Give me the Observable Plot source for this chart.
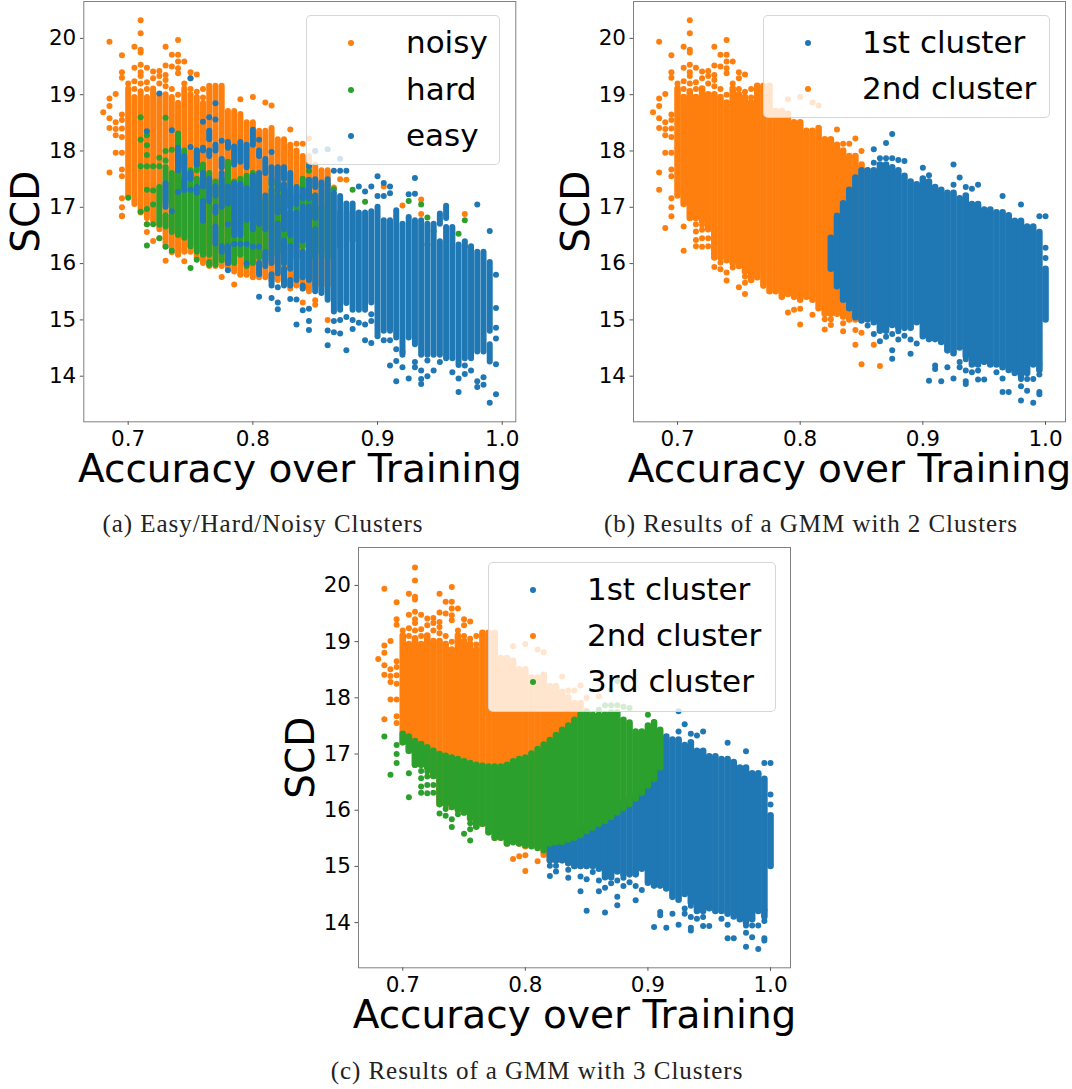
<!DOCTYPE html>
<html>
<head>
<meta charset="utf-8">
<script src="https://cdn.jsdelivr.net/npm/d3@7"></script>
<script src="https://cdn.jsdelivr.net/npm/@observablehq/plot@0.6"></script>
<style>
html,body{margin:0;padding:0;background:#fff}
#page{position:relative;width:1072px;height:1089px;overflow:hidden;font-family:"DejaVu Sans",sans-serif;color:#000}
#page svg{position:absolute;overflow:visible}
.legend{position:absolute;box-sizing:border-box;background:rgba(255,255,255,.8);border:1px solid rgba(204,204,204,.8);border-radius:5px}
.legend .row{position:absolute;left:0;right:0;height:0}
.legend .sw{position:absolute;width:6px;height:6px;border-radius:50%;top:-3px}
.legend .lb{position:absolute;top:-19px;line-height:36px;font-size:31px;white-space:nowrap}
.cap{position:absolute;transform:translateX(-50%);font-family:"Liberation Serif",serif;font-size:25px;letter-spacing:.95px;line-height:26px;white-space:nowrap;color:#222}
</style>
</head>
<body>
<div id="page"></div>
<script>
const blue = "#1f77b4", orange = "#ff7f0e", green = "#2ca02c";
const xTicks = [0.7, 0.8, 0.9, 1.0];
const yTicks = [14, 15, 16, 17, 18, 19, 20];
const xTitle = "Accuracy over Training";
const yTitle = "SCD";

// Vertical stripes of the whole point cloud: one per accuracy level
const columnX = [.70,.705,.71,.715,.72,.725,.73,.735,.74,.745,.75,.755,.76,.765,.77,.775,.78,.785,.79,.795,.80,.805,.81,.815,.82,.825,.83,.835,.84,.845,.85,.855,.86,.865,.87,.875,.88,.885,.89,.895,.90,.905,.91,.915,.92,.925,.93,.935,.94,.945,.95,.955,.96,.965,.97,.975,.98,.985,.99,.995,1.0];
const cloudHigh = [19.1,18.95,19.05,18.95,19.1,19.0,19.0,18.95,18.85,19.1,19.0,18.95,18.85,19.15,19.15,19.15,18.7,18.7,18.65,18.5,18.5,18.35,18.35,18.4,18.2,18.2,18.1,18.0,17.9,17.9,17.75,17.65,17.65,17.75,17.75,17.7,17.65,17.55,17.45,17.4,17.5,17.45,17.35,17.3,17.25,17.25,17.15,17.2,17.05,17.05,16.95,16.95,16.9,16.9,16.85,16.75,16.75,16.65,16.65,16.55,15.9];
const cloudLow = [17.2,17.05,16.8,16.8,16.75,16.6,16.1,16.1,16.05,16.0,15.95,15.85,15.7,15.75,15.6,15.5,15.5,15.4,15.45,15.4,15.35,15.4,15.35,15.2,15.1,15.1,15.1,15.05,15.0,15.0,15.0,15.0,14.95,14.8,14.8,14.9,14.85,14.85,14.85,14.95,14.7,14.65,14.65,14.6,14.45,14.4,14.5,14.35,14.2,14.2,14.25,14.2,14.2,14.15,14.1,14.05,14.0,14.05,14.2,14.1,15.0];
const cloudRows = columnX.map((x, i) => [x, cloudLow[i], cloudHigh[i]]);

// Separate points around the cloud
const upperLeft = [[.68,18.69],[.685,19.94],[.685,18.93],[.685,18.8],[.685,18.58],[.685,18.41],[.685,17.62],[.69,19.01],[.69,18.51],[.69,18.39],[.69,18.28],[.69,17.97],[.695,19.7],[.695,19.4],[.695,19.3],[.695,18.65],[.695,18.55],[.695,18.4],[.695,18.25],[.695,17.97],[.695,17.67],[.695,17.55],[.70,19.2],[.705,19.85],[.705,19.48],[.705,19.24],[.705,19.1],[.71,20.32],[.71,20.09],[.71,19.8],[.71,19.75],[.71,19.53],[.71,19.4],[.71,19.33],[.71,19.2],[.715,19.48],[.715,19.22],[.715,19.1],[.72,19.41],[.72,19.29],[.725,19.42],[.725,19.33],[.725,19.2],[.73,19.85],[.73,19.52],[.73,19.35],[.73,19.26],[.73,19.15],[.735,19.71],[.735,19.5],[.735,19.1],[.74,19.97],[.74,19.71],[.74,19.59],[.74,19.47],[.74,19.38],[.74,19.0],[.745,19.59],[.745,19.2],[.75,19.4],[.75,19.29],[.75,19.1],[.755,19.36],[.755,19.05],[.76,18.95],[.76,19.1],[.79,18.92],[.80,18.96],[.81,18.86],[.815,18.81],[.83,18.38],[.835,18.13],[.84,18.13],[.845,18.22],[.85,18.0]];
const lowerLeftEdge = [[.685,17.31],[.69,16.63],[.695,17.16],[.695,17.0],[.695,16.84],[.705,16.66],[.705,16.23]];
const lowerLeft = [[.715,16.7],[.715,16.57],[.715,16.42],[.715,16.31],[.72,16.69],[.72,16.6],[.72,16.45],[.72,16.3],[.725,16.45],[.725,16.31],[.73,15.94],[.735,16.02],[.735,15.9],[.74,15.84],[.74,15.7],[.745,15.93],[.75,15.58],[.755,15.77],[.755,15.66],[.755,15.46]];
const lowerBridge = [[.79,15.13],[.795,15.18],[.80,15.2],[.80,14.92],[.81,15.09]];
const lowerMiddle = [[.82,15.01],[.82,14.83],[.825,15.01],[.825,14.91],[.835,14.94],[.835,14.8],[.845,14.82],[.845,14.56],[.85,14.77],[.85,14.21],[.86,14.56],[.865,14.18]];
const borderPoint = [[.86,18.03]];
const upperRightGreen = [[.87,18.14],[.875,18.3],[.86,17.79],[.865,17.87],[.87,17.87],[.875,17.87],[.88,17.84],[.885,17.82],[.90,17.7],[.905,17.57]];
const upperRightBlue = [[.925,17.76],[.925,17.4],[.93,17.53],[.935,17.36],[.94,17.33],[.945,17.4],[.965,17.2],[.98,17.05],[.995,16.84],[1.0,16.84],[1.0,16.28],[1.0,16.1]];
const lowerRight = [[.855,14.9],[.86,14.75],[.865,14.62],[.87,14.7],[.875,14.75],[.88,14.8],[.885,14.72],[.875,14.46],[.875,14.31],[.88,14.65],[.89,14.65],[.89,14.4],[.895,14.58],[.905,13.92],[.915,13.91],[.925,13.96],[.935,13.91],[.935,13.86],[.945,13.94],[.95,13.94],[.965,13.96],[.965,13.72],[.97,13.72],[.98,13.57],[.99,13.53],[.995,13.72],[.995,13.68],[.91,14.19],[.91,14.13],[.92,14.16],[.93,14.25],[.93,14.16],[.935,14.3],[.935,14.1],[.94,14.28],[.94,14.07],[.945,14.1],[.95,14.25],[.96,14.07],[.965,14.19],[.975,14.07],[.98,13.95],[.98,13.82],[.985,13.74],[.985,13.95],[.99,13.95],[.995,14.03],[.995,14.22]];

// (b) the part of each stripe near the border that belongs to the 1st cluster
const bBlueStart = [[.825,15.9,16.45],[.83,15.59,16.84],[.835,15.35,17.06],[.84,15.2,17.3],[.845,15.04,17.52],[.85,14.98,17.65]];

// (c) 3rd-cluster stripes
const greenX = columnX.slice(0, 43);
const greenHigh = [17.35,17.3,17.22,17.17,17.11,17.05,16.99,16.96,16.93,16.9,16.86,16.83,16.8,16.78,16.77,16.77,16.77,16.8,16.86,16.9,16.93,17.0,17.08,17.16,17.24,17.33,17.42,17.5,17.6,17.7,17.73,17.69,17.69,17.7,17.73,17.73,17.6,17.55,17.39,17.39,17.5,17.55,17.42];
const greenLow = [17.2,17.05,16.8,16.8,16.75,16.6,16.1,16.1,16.05,16.0,15.95,15.85,15.7,15.75,15.6,15.5,15.5,15.4,15.42,15.4,15.37,15.35,15.32,15.28,15.4,15.42,15.43,15.47,15.5,15.55,15.62,15.68,15.75,15.8,15.87,15.95,16.03,16.1,16.2,16.3,16.43,16.55,16.75];

// (a) noisy samples
const noisyX = columnX.slice(0, 33);
const noisyLow = [17.2,17.05,16.9,16.8,16.75,16.6,16.3,16.25,16.15,16.2,16.2,16.1,16.0,15.95,15.95,15.95,15.9,15.85,15.8,15.8,15.75,15.75,15.75,15.7,15.7,15.65,15.55,15.6,15.55,15.5,15.6,15.6,15.6];
const noisyExtra = [[.695,16.85],[.715,16.7],[.715,16.56],[.72,16.4],[.725,16.45],[.73,16.05],[.735,16.2],[.745,16.04],[.775,15.76],[.785,15.63],[.79,15.8],[.795,15.8],[.84,15.31],[.85,15.35],[.85,15.27],[.865,17.35],[.87,17.5],[.875,17.49],[.905,17.37],[.92,17.03],[.935,17.14],[.935,16.88],[.97,16.88],[.86,15.0]];

// (a) hard samples
const hardRows = [[.725,16.9,17.35],[.725,16.68,16.85],[.73,17.1,17.7],[.73,16.65,16.85],[.735,16.55,17.6],[.74,16.5,17.65],[.74,17.8,18.3],[.745,16.45,17.5],[.745,17.7,18.0],[.75,16.3,17.65],[.755,16.2,17.5],[.755,17.65,18.0],[.76,16.15,17.75],[.765,16.15,17.6],[.765,15.97,16.02],[.77,15.97,17.45],[.775,16.05,17.5],[.78,16.0,17.8],[.785,16.0,17.45],[.79,16.15,17.5],[.795,15.95,17.55],[.80,16.0,17.6],[.805,16.1,17.5],[.81,16.05,17.1],[.815,16.15,17.5],[.82,16.2,17.4],[.825,16.0,17.3],[.83,16.35,17.3],[.835,16.1,17.2],[.84,16.3,17.5],[.845,16.2,17.3],[.85,16.1,17.2],[.855,16.2,17.0],[.86,16.1,17.3],[.87,16.3,16.9],[.88,16.4,16.9]];
const hardDots = [[.70,17.17],[.71,18.6],[.71,18.2],[.71,17.73],[.71,16.92],[.715,18.28],[.715,18.1],[.715,17.93],[.715,17.73],[.715,17.31],[.715,16.97],[.715,16.7],[.715,16.32],[.72,17.73],[.72,17.3],[.72,17.05],[.72,16.7],[.725,17.88],[.725,17.73],[.725,16.45],[.73,18.59],[.73,18.0],[.73,17.83],[.73,16.3],[.735,18.02],[.735,16.23],[.75,15.92],[.755,16.07],[.845,17.74],[.845,17.65],[.86,17.4],[.865,17.32],[.88,17.31],[.89,17.1],[.925,17.11],[.935,17.05],[.94,16.82],[.94,16.34],[.945,16.58],[.965,16.53],[.97,16.77],[.97,16.31]];

// (a) easy samples
const easyRows = [[.73,17.0,17.42],[.74,17.65,18.05],[.745,17.3,17.9],[.75,17.5,17.6],[.755,17.75,18.0],[.755,17.25,17.35],[.76,17.36,17.6],[.76,16.75,17.1],[.76,18.0,18.05],[.765,18.2,18.35],[.765,17.9,18.0],[.765,17.1,17.5],[.77,17.2,17.36],[.77,16.9,17.0],[.77,16.35,16.65],[.77,18.0,18.1],[.775,17.0,17.6],[.775,16.2,16.3],[.775,17.7,17.85],[.78,18.05,18.15],[.78,17.06,17.36],[.78,16.0,16.3],[.785,17.75,18.07],[.785,16.5,17.42],[.79,17.8,18.15],[.79,16.7,17.4],[.79,16.5,16.7],[.795,17.7,18.1],[.795,16.77,17.33],[.80,18.1,18.37],[.80,16.9,17.55],[.80,16.6,16.9],[.805,17.9,18.0],[.805,16.7,17.6],[.805,15.8,16.0],[.81,17.6,17.85],[.81,16.6,17.2],[.81,15.95,16.2],[.815,17.4,17.7],[.815,16.0,17.3],[.815,15.6,15.8],
[.82,17.3,17.7],[.82,16.9,17.2],[.82,15.82,16.7],[.825,17.5,17.7],[.825,16.6,17.4],[.825,16.0,16.4],[.825,15.6,15.9],[.83,17.0,17.6],[.83,16.5,16.9],[.83,15.9,16.3],[.83,15.6,15.7],[.835,17.05,17.35],[.835,15.7,16.9],[.84,17.15,17.3],[.84,16.4,17.0],[.84,15.75,16.2],[.84,15.55,15.6],[.845,17.15,17.48],[.845,15.7,17.0],
[.85,17.35,17.49],[.85,16.8,17.2],[.85,15.5,16.6],[.855,15.47,17.43],[.86,15.35,17.49],[.865,15.14,17.25],[.87,15.17,17.19],[.875,15.29,17.06],[.88,15.17,17.06],[.885,15.17,16.9],[.89,15.17,16.9],[.895,15.3,16.92],[.90,14.7,17.0],[.905,14.8,16.76],[.91,14.8,16.76],[.915,14.68,16.94],[.92,14.37,16.7],[.925,14.68,16.82],[.93,14.56,16.76],[.935,14.37,16.76],[.94,14.37,16.7],[.945,14.37,16.7],[.95,14.37,16.39],[.95,16.7,16.88],[.955,14.31,16.64],[.955,16.8,17.02],[.96,14.31,16.64],[.965,14.19,16.33],[.97,14.31,16.39],[.975,14.31,16.3],[.98,14.43,16.2],[.985,14.43,16.2],[.99,14.8,16.02],[.99,14.25,14.56]];
const easyDots = [[.715,18.35],[.725,19.02],[.735,18.37],[.75,19.29],[.75,18.07],[.75,17.31],[.735,16.93],[.74,17.27],[.76,18.52],[.765,18.6],[.77,18.85],[.77,18.56],[.775,18.18],[.78,16.7],[.78,15.88],[.785,16.35],[.79,16.35],[.795,16.35],[.795,16.0],[.80,16.3],[.805,18.2],[.805,16.3],[.815,17.98],[.82,15.58],
[.805,15.41],[.815,15.39],[.82,15.31],[.82,15.19],[.83,15.37],[.835,15.36],[.835,14.92],[.84,15.17],[.845,15.2],[.845,14.98],[.845,14.82],[.86,14.81],[.86,14.55],[.865,14.98],[.865,14.78],[.87,15.0],[.87,14.76],[.875,15.05],[.875,14.46],[.88,15.0],[.88,14.84],[.885,14.95],[.89,14.92],[.89,14.64],[.895,15.1],[.895,14.98],[.895,14.59],[.905,14.64],[.91,14.64],[.915,14.48],[.915,14.27],[.915,13.91],[.91,14.19],[.92,14.16],[.92,14.43],[.925,13.96],[.93,14.25],[.93,14.16],[.935,14.1],[.935,13.95],[.935,13.86],[.94,14.28],[.94,14.0],[.945,14.1],[.95,14.25],[.96,14.07],[.965,13.96],[.965,13.72],[.97,14.19],[.97,14.04],[.975,14.1],[.98,13.91],[.98,13.81],[.985,13.98],[.985,13.85],[.99,13.53],[.99,16.58],[.995,13.68],[.995,14.21],[.995,15.8],[.995,15.21],[.995,14.86],[.995,14.67],
[.845,17.73],[.85,18.0],[.86,18.03],[.865,17.65],[.87,17.65],[.875,17.65],[.87,17.86],[.885,17.37],[.89,17.28],[.895,17.37],[.90,17.55],[.90,17.2],[.905,17.43],[.905,17.2],[.91,17.37],[.91,17.25],[.93,17.52],[.925,17.23],[.93,17.24],[.98,17.05]];

const panels = {
  a: {left: 0, top: 0, width: 530, marginLeft: 83.3, marginRight: 14.7, marginTop: 1,
      xDomain: [.6644, 1.0109], yDomain: [13.19, 20.655], stripe: 6},
  b: {left: 550, top: 0, width: 522, marginLeft: 83, marginRight: 7, marginTop: 1,
      xDomain: [.6641, 1.0163], yDomain: [13.19, 20.655], stripe: 6.6},
  c: {left: 275, top: 546, width: 525, marginLeft: 83, marginRight: 10, marginTop: 1,
      xDomain: [.6639, 1.0163], yDomain: [13.196, 20.675], stripe: 6.6}
};

const runs = (rows, color, width) => Plot.ruleX(rows, {x: d => d[0], y1: d => d[1], y2: d => d[2], stroke: color, strokeWidth: width, strokeLinecap: "round"});
const dots = (pts, color) => Plot.dot(pts, {x: d => d[0], y: d => d[1], r: 3, fill: color});

const page = document.getElementById("page");

function draw(p, marks) {
  const height = 500;
  const svg = Plot.plot({
    width: p.width, height,
    marginLeft: p.marginLeft, marginRight: p.marginRight, marginTop: p.marginTop,
    marginBottom: height - p.marginTop - 420.3,
    x: {domain: p.xDomain}, y: {domain: p.yDomain},
    style: {fontFamily: '"DejaVu Sans", sans-serif', background: "transparent", color: "#000"},
    marks: [
      ...marks,
      Plot.frame({stroke: "#808080", strokeWidth: 1}),
      Plot.axisX({ticks: xTicks, tickFormat: d => d.toFixed(1), fontSize: 21.5, tickSize: 3.5, tickPadding: 5, label: null, stroke: "#555", anchor: "bottom"}),
      Plot.axisY({ticks: yTicks, tickFormat: d => String(d), fontSize: 21.5, tickSize: 3.5, tickPadding: 4, label: null, stroke: "#555", anchor: "left"}),
      Plot.text([xTitle], {text: d => d, frameAnchor: "bottom", lineAnchor: "middle", dy: 48, fontSize: 39, fill: "#000"}),
      Plot.text([yTitle], {text: d => d, frameAnchor: "left", textAnchor: "middle", lineAnchor: "middle", dx: -57, rotate: -90, fontSize: 39, fill: "#000"})
    ]
  });
  svg.style.left = p.left + "px";
  svg.style.top = p.top + "px";
  page.appendChild(svg);
}

function legend(box, swatchX, labelX, items) {
  const el = document.createElement("div");
  el.className = "legend";
  Object.assign(el.style, {left: box[0] + "px", top: box[1] + "px", width: box[2] + "px", height: box[3] + "px"});
  items.forEach(([label, color, y]) => {
    const row = document.createElement("div");
    row.className = "row";
    row.style.top = y + "px";
    row.innerHTML = `<span class="sw" style="left:${swatchX - 3}px;background:${color}"></span><span class="lb" style="left:${labelX}px">${label}</span>`;
    el.appendChild(row);
  });
  page.appendChild(el);
}

function caption(text, x, y) {
  const el = document.createElement("div");
  el.className = "cap";
  el.textContent = text;
  el.style.left = x + "px";
  el.style.top = y + "px";
  page.appendChild(el);
}

// (a)
draw(panels.a, [
  runs(noisyX.map((x, i) => [x, noisyLow[i], cloudHigh[i]]), orange, panels.a.stripe),
  dots(upperLeft.concat(lowerLeftEdge.filter(d => d[0] === .695), noisyExtra), orange),
  runs(hardRows, green, panels.a.stripe),
  dots(hardDots, green),
  runs(easyRows, blue, panels.a.stripe),
  dots(easyDots, blue)
]);
legend([306, 15, 194, 150], 44, 99, [["noisy", orange, 27], ["hard", green, 74], ["easy", blue, 120]]);
caption("(a) Easy/Hard/Noisy Clusters", 263, 511);

// (b)
draw(panels.b, [
  runs(cloudRows.filter(d => d[0] <= .85), orange, panels.b.stripe),
  dots(upperLeft.concat(lowerLeftEdge, lowerLeft, lowerBridge, lowerMiddle), orange),
  runs(bBlueStart.concat(cloudRows.filter(d => d[0] > .85)), blue, panels.b.stripe),
  dots(borderPoint.concat(upperRightGreen, upperRightBlue, lowerRight), blue)
]);
legend([763, 15, 287, 103], 44, 98, [["1st cluster", blue, 27], ["2nd cluster", orange, 73]]);
caption("(b) Results of a GMM with 2 Clusters", 811, 511);

// (c)
draw(panels.c, [
  runs(cloudRows.filter(d => d[0] <= .85), orange, panels.c.stripe),
  dots(upperLeft.concat(borderPoint, lowerBridge), orange),
  runs(cloudRows.filter(d => d[0] >= .82).map(d => d[0] <= .91 ? [d[0], d[1], greenLow[greenX.indexOf(d[0])] + .1] : d), blue, panels.c.stripe),
  dots(lowerMiddle.concat(upperRightBlue, lowerRight), blue),
  runs(greenX.map((x, i) => [x, greenLow[i], greenHigh[i]]), green, panels.c.stripe),
  dots(lowerLeftEdge.concat(lowerLeft, upperRightGreen), green)
]);
legend([488, 562, 288, 150], 44, 98, [["1st cluster", blue, 27], ["2nd cluster", orange, 73], ["3rd cluster", green, 119]]);
caption("(c) Results of a GMM with 3 Clusters", 537, 1058);
</script>
</body>
</html>
